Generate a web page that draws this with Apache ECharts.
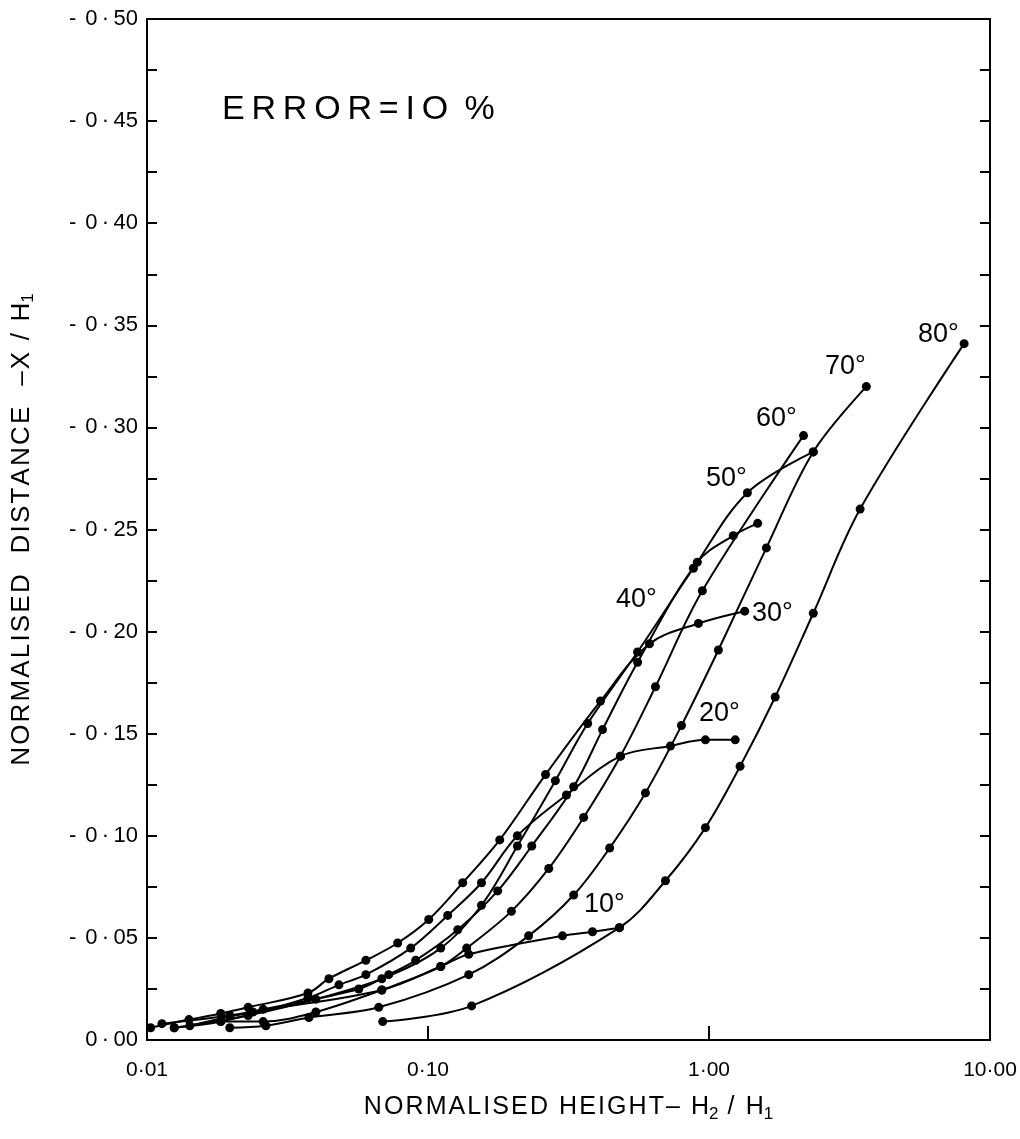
<!DOCTYPE html>
<html>
<head>
<meta charset="utf-8">
<script src="https://cdn.jsdelivr.net/npm/echarts@6/dist/echarts.min.js"></script>
<style>
html,body{margin:0;padding:0;background:#fff;}
#c{width:1020px;height:1139px;}
</style>
</head>
<body>
<div id="c"></div>
<script>
// ---- data (x = H2/H1, y = -X/H1) ----
const deg10 = [[0.0142,-0.007],[0.0238,-0.0137],[0.0685,-0.0245],[0.111,-0.036],[0.1396,-0.042],[0.301,-0.051],[0.385,-0.053],[0.48,-0.055]];
const deg20 = [[0.0125,-0.006],[0.0183,-0.009],[0.0374,-0.0206],[0.0482,-0.027],[0.0601,-0.032],[0.0868,-0.045],[0.1175,-0.061],[0.155,-0.077],[0.208,-0.100],[0.311,-0.120],[0.484,-0.139],[0.729,-0.144],[0.971,-0.147],[1.24,-0.147]];
const deg30 = [[0.0103,-0.006],[0.0141,-0.010],[0.0183,-0.013],[0.0229,-0.016],[0.0374,-0.023],[0.0444,-0.030],[0.0601,-0.039],[0.078,-0.0475],[0.1006,-0.059],[0.1329,-0.077],[0.180,-0.098],[0.262,-0.130],[0.411,-0.166],[0.614,-0.194],[0.917,-0.204],[1.34,-0.210]];
const deg40 = [[0.0113,-0.008],[0.0197,-0.012],[0.0259,-0.015],[0.0567,-0.025],[0.0725,-0.032],[0.0904,-0.039],[0.1276,-0.054],[0.177,-0.073],[0.234,-0.095],[0.330,-0.124],[0.418,-0.152],[0.557,-0.185],[0.909,-0.234],[1.22,-0.247],[1.49,-0.253]];
const deg50 = [[0.0125,-0.006],[0.0229,-0.012],[0.0399,-0.020],[0.0685,-0.030],[0.111,-0.045],[0.155,-0.066],[0.208,-0.095],[0.284,-0.127],[0.370,-0.155],[0.557,-0.190],[0.880,-0.231],[1.37,-0.268],[2.35,-0.288]];
const deg60 = [[0.0183,-0.009],[0.0259,-0.009],[0.0399,-0.0137],[0.0685,-0.0245],[0.111,-0.036],[0.1373,-0.045],[0.198,-0.063],[0.269,-0.084],[0.358,-0.109],[0.484,-0.139],[0.645,-0.173],[0.947,-0.220],[2.17,-0.296]];
const deg70 = [[0.0197,-0.006],[0.0265,-0.007],[0.0377,-0.011],[0.0668,-0.016],[0.1396,-0.032],[0.228,-0.051],[0.330,-0.071],[0.443,-0.094],[0.594,-0.121],[0.798,-0.154],[1.08,-0.191],[1.60,-0.241],[2.35,-0.288],[3.63,-0.320]];
const deg80 = [[0.069,-0.009],[0.143,-0.0167],[0.48,-0.055],[0.70,-0.078],[0.971,-0.104],[1.29,-0.134],[1.72,-0.168],[2.35,-0.209],[3.45,-0.260],[8.09,-0.341]];
const seriesNames = ['10°','20°','30°','40°','50°','60°','70°','80°'];
const xTickLabels = {'0.01':'0·01','0.1':'0·10','1':'1·00','10':'10·00'};

const FONT = 'Liberation Sans';
const HS = '\u200A';
const sp = s => s.split('').join(HS);
const chart = echarts.init(document.getElementById('c'), null, {renderer:'canvas'});
const allData = [deg10,deg20,deg30,deg40,deg50,deg60,deg70,deg80];

const series = allData.map((d,i)=>({
  name: seriesNames[i], type:'line', data:d, smooth:0.35,
  symbol:'circle', symbolSize:9, showSymbol:true,
  itemStyle:{color:'#000'}, lineStyle:{color:'#000', width:2},
  silent:true, animation:false, z:3
}));

function yFmt(v){
  if (Math.abs(v) < 1e-9) return '0\u2009·\u200900';
  const n = Math.round(-v*100);
  const s = (n<10?'0':'')+n;
  return '-\u2009\u20090\u2009·\u2009'+s;
}

const labelStyle = {fontFamily:FONT, fontSize:27, fill:'#000', textVerticalAlign:'middle'};
const angleLabels = [
  ['80°',918,335],['70°',825,367],['60°',756,419],['50°',706,479],
  ['40°',616,600],['30°',752,614],['20°',699,714],['10°',584,905]
];

chart.setOption({
  backgroundColor:'#fff',
  animation:false,
  grid:{left:147, right:30, top:19, bottom:99, show:true, borderColor:'#000', borderWidth:2, backgroundColor:'transparent'},
  xAxis:{
    type:'log', logBase:10, min:0.01, max:10,
    axisLine:{lineStyle:{color:'#000', width:2}},
    axisTick:{inside:true, length:14, lineStyle:{color:'#000', width:2}},
    splitLine:{show:false},
    axisLabel:{color:'#000', fontFamily:FONT, fontSize:21, margin:20,
      formatter:(v)=>{const k=String(+v.toPrecision(3)); return xTickLabels[k]||'';}},
    name:sp('NORMALISED HEIGHT\u2013 H')+'{s|2}'+sp(' / H')+'{s|1}',
    nameLocation:'middle', nameGap:52,
    nameTextStyle:{color:'#000', fontFamily:FONT, fontSize:25,
      rich:{s:{fontFamily:FONT, fontSize:17, verticalAlign:'bottom', padding:[14,0,0,0], color:'#000'}}}
  },
  yAxis:[{
    type:'value', min:-0.5, max:0, interval:0.05, inverse:true,
    axisLine:{show:true, lineStyle:{color:'#000', width:2}},
    axisTick:{show:true, inside:true, length:10, lineStyle:{color:'#000', width:2}},
    minorTick:{show:true, splitNumber:2, length:10, lineStyle:{color:'#000', width:2}},
    splitLine:{show:false},
    axisLabel:{color:'#000', fontFamily:FONT, fontSize:22, margin:9, formatter:yFmt},
    name:sp('NORMALISED  DISTANCE  \u2013X / H')+'{s|1}',
    nameLocation:'middle', nameGap:110, nameRotate:90,
    nameTextStyle:{color:'#000', fontFamily:FONT, fontSize:26,
      rich:{s:{fontFamily:FONT, fontSize:17, verticalAlign:'bottom', padding:[14,0,0,0], color:'#000'}}}
  },{
    type:'value', min:-0.5, max:0, interval:0.05, inverse:true, position:'right',
    axisLine:{show:true, lineStyle:{color:'#000', width:2}},
    axisTick:{show:true, inside:true, length:10, lineStyle:{color:'#000', width:2}},
    minorTick:{show:true, splitNumber:2, length:10, lineStyle:{color:'#000', width:2}},
    splitLine:{show:false}, axisLabel:{show:false}
  }],
  series: series,
  graphic: [
    {type:'text', left:222, top:93, z:10, style:{text:'E\u2009R\u2009R\u2009O\u2009R\u2009=\u2009I\u2009O\u2009 %', fontFamily:FONT, fontSize:34, fill:'#000'}}
  ].concat(angleLabels.map(a=>({type:'text', x:a[1], y:a[2], z:10, style:Object.assign({text:a[0]}, labelStyle)})))
});
</script>
</body>
</html>
